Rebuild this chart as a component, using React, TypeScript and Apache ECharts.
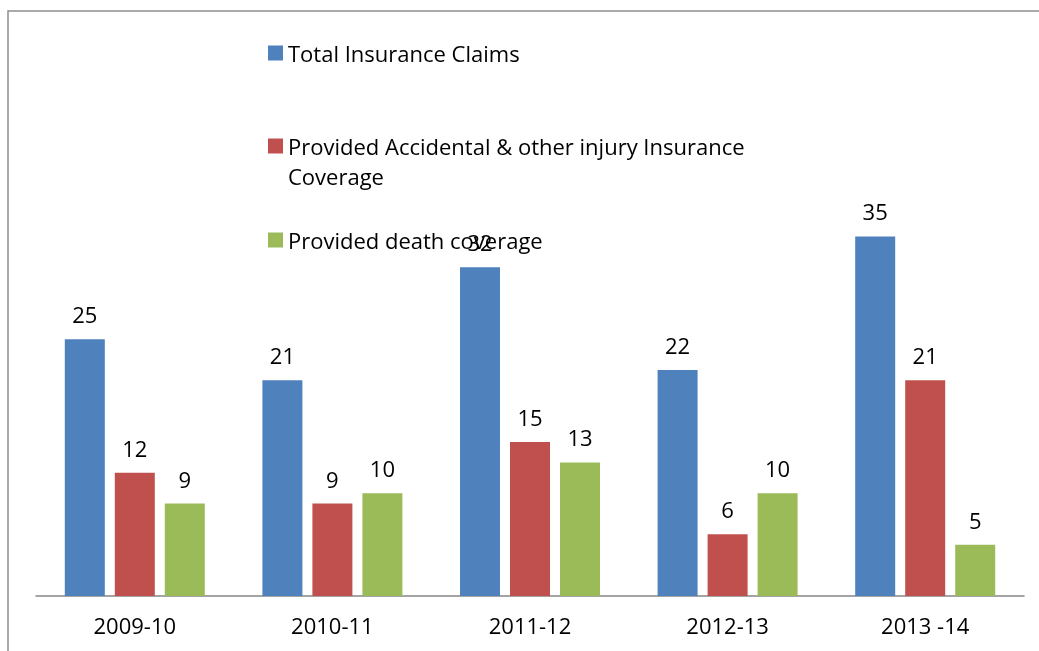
import React, { useEffect, useRef } from "react";
import * as echarts from "echarts";

const categories = ["2009-10", "2010-11", "2011-12", "2012-13", "2013 -14"];
const seriesNames = [
  "Total Insurance Claims",
  "Provided Accidental & other injury Insurance Coverage",
  "Provided death coverage",
];
const totalClaims = [25, 21, 32, 22, 35];
const accidentalCoverage = [12, 9, 15, 6, 21];
const deathCoverage = [9, 10, 13, 10, 5];
const colors = ["#4F81BD", "#C0504D", "#9BBB59"];

const FONT = "Open Sans";

export default function App() {
  const ref = useRef<HTMLDivElement>(null);
  useEffect(() => {
    if (!ref.current) return;
    const chart = echarts.init(ref.current, null, { renderer: "svg" });
    const values = [totalClaims, accidentalCoverage, deathCoverage];
    const legendBase = {
      orient: "vertical",
      left: 268,
      padding: 0,
      icon: "rect",
      itemWidth: 15,
      itemHeight: 15,
      selectedMode: false,
    };
    const legendText = { fontFamily: FONT, fontSize: 22, color: "#000", lineHeight: 30 };
    chart.setOption({
      animation: false,
      color: colors,
      graphic: [
        {
          type: "rect",
          z: -10,
          shape: { x: 8, y: 11, width: 1200, height: 800 },
          style: { fill: "none", stroke: "#8e8e8e", lineWidth: 1.5 },
          silent: true,
        },
      ],
      legend: [
        { ...legendBase, top: 38, data: [seriesNames[0]], textStyle: legendText },
        {
          ...legendBase,
          top: 101,
          data: [seriesNames[1]],
          formatter: () => " \nProvided Accidental & other injury Insurance\nCoverage",
          textStyle: legendText,
        },
        { ...legendBase, top: 225, data: [seriesNames[2]], textStyle: legendText },
      ],
      grid: { left: 36, right: 15, top: 185, bottom: 55 },
      xAxis: {
        type: "category",
        data: categories,
        axisLine: { lineStyle: { color: "#868686", width: 1.5 } },
        axisTick: { show: false },
        axisLabel: { fontFamily: FONT, fontSize: 22, color: "#000", margin: 18 },
      },
      yAxis: {
        type: "value",
        min: 0,
        max: 40,
        show: false,
        splitLine: { show: false },
      },
      series: seriesNames.map((name, i) => ({
        name,
        type: "bar",
        data: values[i],
        barWidth: 40,
        barGap: "25%",
        itemStyle: { color: colors[i] },
        label: {
          show: true,
          position: "top",
          distance: 14,
          fontFamily: FONT,
          fontSize: 22,
          color: "#000",
        },
      })),
    });
    return () => chart.dispose();
  }, []);
  return (
    <div
      ref={ref}
      style={{ position: "fixed", left: 0, top: 0, width: 1039, height: 651 }}
    />
  );
}
